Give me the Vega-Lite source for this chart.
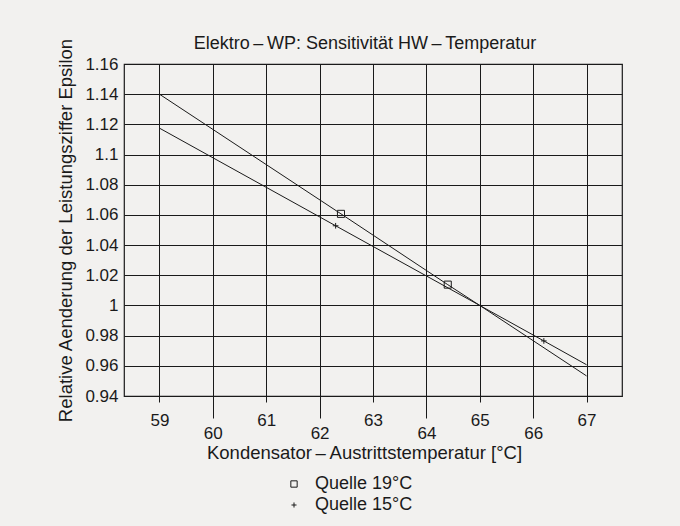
{
  "$schema": "https://vega.github.io/schema/vega-lite/v6.json",
  "width": 498,
  "height": 332,
  "autosize": {"type": "none"},
  "padding": {"left": 124, "top": 64, "right": 58, "bottom": 130},
  "background": "#f2f1ef",
  "config": {
    "font": "Liberation Sans",
    "view": {"stroke": "#1a1a1a", "strokeWidth": 1.2}
  },
  "title": {
    "text": "Elektro\u2009\u2013\u2009WP: Sensitivität HW\u2009\u2013\u2009Temperatur",
    "fontSize": 18,
    "fontWeight": "normal",
    "color": "#1a1a1a",
    "anchor": "middle",
    "offset": 9,
    "dy": 24,
    "dx": -8
  },
  "datasets": {
    "lines": [
      {"t": 59, "e": 1.14, "s": "Quelle 19°C"},
      {"t": 62.4, "e": 1.0607, "s": "Quelle 19°C"},
      {"t": 64.4, "e": 1.0138, "s": "Quelle 19°C"},
      {"t": 65, "e": 1.0, "s": "Quelle 19°C"},
      {"t": 67, "e": 0.9533, "s": "Quelle 19°C"},
      {"t": 59, "e": 1.1175, "s": "Quelle 15°C"},
      {"t": 62.3, "e": 1.0528, "s": "Quelle 15°C"},
      {"t": 65, "e": 1.0, "s": "Quelle 15°C"},
      {"t": 66.2, "e": 0.9765, "s": "Quelle 15°C"},
      {"t": 67, "e": 0.9607, "s": "Quelle 15°C"}
    ],
    "markers": [
      {"t": 62.4, "e": 1.0607, "s": "Quelle 19°C"},
      {"t": 64.4, "e": 1.0138, "s": "Quelle 19°C"},
      {"t": 62.3, "e": 1.0528, "s": "Quelle 15°C"},
      {"t": 66.2, "e": 0.9765, "s": "Quelle 15°C"}
    ],
    "ticksShort": [{"t": 59}, {"t": 61}, {"t": 63}, {"t": 65}, {"t": 67}],
    "ticksLong": [{"t": 60}, {"t": 62}, {"t": 64}, {"t": 66}]
  },
  "encoding": {
    "y": {
      "field": "e",
      "type": "quantitative",
      "scale": {"domain": [0.94, 1.16], "nice": false, "zero": false},
      "axis": {
        "title": "Relative Aenderung der Leistungsziffer Epsilon",
        "values": [0.94, 0.96, 0.98, 1.0, 1.02, 1.04, 1.06, 1.08, 1.1, 1.12, 1.14, 1.16],
        "format": ".2~f",
        "grid": true,
        "gridColor": "#1a1a1a",
        "gridWidth": 1,
        "gridOpacity": 1,
        "domain": false,
        "ticks": false,
        "labelPadding": 6,
        "labelFontSize": 17,
        "labelColor": "#1a1a1a",
        "titleFontSize": 18.5,
        "titleFontWeight": "normal",
        "titleColor": "#1a1a1a",
        "titlePadding": 9
      }
    }
  },
  "resolve": {"axis": {"x": "independent"}},
  "layer": [
    {
      "data": {"name": "lines"},
      "mark": {"type": "line", "color": "#1a1a1a", "strokeWidth": 1},
      "encoding": {
        "detail": {"field": "s"},
        "x": {
          "field": "t",
          "type": "quantitative",
          "scale": {"domain": [58.43, 67.57], "nice": false, "zero": false},
          "axis": {
            "orient": "bottom",
            "title": null,
            "values": [59, 61, 63, 65, 67],
            "grid": true,
            "gridColor": "#1a1a1a",
            "gridWidth": 1,
            "gridOpacity": 1,
            "domain": false,
            "ticks": true,
            "tickColor": "#1a1a1a",
            "tickSize": 6,
            "labelPadding": 10,
            "labelFontSize": 17,
            "labelColor": "#1a1a1a"
          }
        }
      }
    },
    {
      "data": {"name": "markers"},
      "mark": {"type": "point", "filled": false, "color": "#1a1a1a", "strokeWidth": 1, "size": 50, "opacity": 1},
      "encoding": {
        "x": {
          "field": "t",
          "type": "quantitative",
          "scale": {"domain": [58.43, 67.57], "nice": false, "zero": false},
          "axis": {
            "orient": "bottom",
            "title": "Kondensator\u2009\u2013\u2009Austrittstemperatur [°C]",
            "values": [60, 62, 64, 66],
            "grid": true,
            "gridColor": "#1a1a1a",
            "gridWidth": 1,
            "gridOpacity": 1,
            "domain": false,
            "ticks": true,
            "tickColor": "#1a1a1a",
            "tickSize": 22,
            "labelPadding": 7,
            "labelFontSize": 17,
            "labelColor": "#1a1a1a",
            "titleFontSize": 18.5,
            "titleFontWeight": "normal",
            "titleColor": "#1a1a1a",
            "titlePadding": 2,
            "titleX": 240
          }
        },
        "shape": {
          "field": "s",
          "type": "nominal",
          "scale": {
            "domain": ["Quelle 19°C", "Quelle 15°C"],
            "range": ["square", "M-0.8,0H0.8M0,-0.8V0.8"]
          },
          "legend": {
            "title": null,
            "orient": "none",
            "legendX": 161,
            "legendY": 411,
            "labelFontSize": 18,
            "labelColor": "#1a1a1a",
            "symbolSize": 40,
            "symbolStrokeColor": "#1a1a1a",
            "symbolStrokeWidth": 1,
            "labelOffset": 12,
            "rowPadding": 3
          }
        }
      }
    },
    {
      "data": {"name": "ticksShort"},
      "mark": {"type": "bar", "color": "#1a1a1a", "size": 1, "orient": "vertical"},
      "encoding": {
        "x": {"field": "t", "type": "quantitative", "scale": {"domain": [58.43, 67.57], "nice": false, "zero": false}, "axis": null},
        "y": {"datum": 0.94, "type": "quantitative"},
        "y2": {"datum": 0.936}
      }
    },
    {
      "data": {"name": "ticksLong"},
      "mark": {"type": "bar", "color": "#1a1a1a", "size": 1, "orient": "vertical"},
      "encoding": {
        "x": {"field": "t", "type": "quantitative", "scale": {"domain": [58.43, 67.57], "nice": false, "zero": false}, "axis": null},
        "y": {"datum": 0.94, "type": "quantitative"},
        "y2": {"datum": 0.9254}
      }
    }
  ]
}
